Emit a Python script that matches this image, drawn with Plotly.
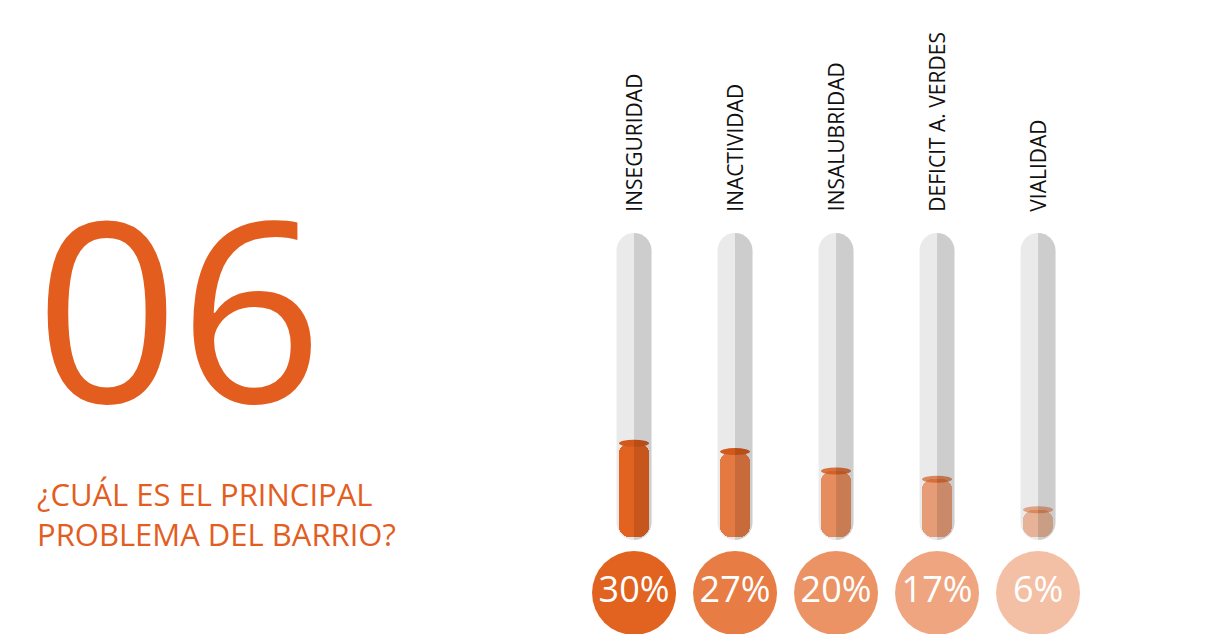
import plotly.graph_objects as go

# ---- data ----
categories = ["INSEGURIDAD", "INACTIVIDAD", "INSALUBRIDAD", "DEFICIT A. VERDES", "VIALIDAD"]
values = [30, 27, 20, 17, 6]
value_labels = ["30%", "27%", "20%", "17%", "6%"]
shade_alpha = [1.0, 0.83, 0.69, 0.57, 0.40]

title_number = "06"
subtitle = "¿CUÁL ES EL PRINCIPAL<br>PROBLEMA DEL BARRIO?"

# ---- layout constants ----
W, H = 1216, 634
X_RANGE = [-6.198, 5.841]
Y_RANGE = [-41.8, 187.3]
PPX = W / (X_RANGE[1] - X_RANGE[0])   # px per x unit
PPY = H / (Y_RANGE[1] - Y_RANGE[0])   # px per y unit

TUBE_TOP = 106.0
TUBE_BOTTOM = -4.9
FILL_FLOOR = -4.0
BADGE_Y = -24.1
LABEL_BASE = 113.0

TUBE_W_PX = 35
FILL_W_PX = 30
ORANGE = (226, 98, 31)
DARK_ORANGE = (210, 88, 27)
TUBE_COLOR = "#EAEAEA"
TEXT_ORANGE = "#E35D1F"
K = 0.5523


def rounded_rect(x0, x1, y0, y1, rx, ry):
    return (
        f"M {x0},{y0+ry} L {x0},{y1-ry} "
        f"C {x0},{y1-ry+K*ry} {x0+rx-K*rx},{y1} {x0+rx},{y1} "
        f"L {x1-rx},{y1} "
        f"C {x1-rx+K*rx},{y1} {x1},{y1-ry+K*ry} {x1},{y1-ry} "
        f"L {x1},{y0+ry} "
        f"C {x1},{y0+ry-K*ry} {x1-rx+K*rx},{y0} {x1-rx},{y0} "
        f"L {x0+rx},{y0} "
        f"C {x0+rx-K*rx},{y0} {x0},{y0+ry-K*ry} {x0},{y0+ry} Z"
    )


def right_half(xc, x1, y0, y1, rx, ry):
    return (
        f"M {xc},{y1} "
        f"C {xc+K*rx},{y1} {x1},{y1-ry+K*ry} {x1},{y1-ry} "
        f"L {x1},{y0+ry} "
        f"C {x1},{y0+ry-K*ry} {xc+K*rx},{y0} {xc},{y0} Z"
    )


def rgba(c, a):
    return f"rgba({c[0]},{c[1]},{c[2]},{a})"


idx = list(range(len(categories)))
fig = go.Figure()

# liquid fill (drawn downward from the value so the rounded end sits at the bottom)
fig.add_trace(go.Bar(
    x=idx,
    y=[FILL_FLOOR - v for v in values],
    base=values,
    width=FILL_W_PX / PPX,
    marker=dict(color=[rgba(ORANGE, a) for a in shade_alpha], line=dict(width=0),
                cornerradius=10),
    hoverinfo="skip",
))

# percentage badges
fig.add_trace(go.Scatter(
    x=idx,
    y=[BADGE_Y] * len(values),
    mode="markers+text",
    marker=dict(size=84, color=[rgba(ORANGE, a) for a in shade_alpha], line=dict(width=0)),
    text=value_labels,
    textposition="middle center",
    textfont=dict(family="Open Sans", size=36, color="white"),
    hoverinfo="skip",
))

shapes = []
rx = (TUBE_W_PX / 2) / PPX
ry = (TUBE_W_PX / 2) / PPY
for i in idx:
    shapes.append(dict(type="path", xref="x", yref="y", layer="below",
                       path=rounded_rect(i - rx, i + rx, TUBE_BOTTOM, TUBE_TOP, rx, ry),
                       fillcolor=TUBE_COLOR, line=dict(width=0)))
for i, v, a in zip(idx, values, shade_alpha):
    shapes.append(dict(type="circle", xref="x", yref="y", layer="above",
                       xsizemode="pixel", ysizemode="pixel", xanchor=i, yanchor=v,
                       x0=-FILL_W_PX / 2, x1=FILL_W_PX / 2, y0=-3.5, y1=3.5,
                       fillcolor=rgba(DARK_ORANGE, round(min(1.0, a * 1.2), 2)),
                       line=dict(width=0)))
for i in idx:
    shapes.append(dict(type="path", xref="x", yref="y", layer="above",
                       path=right_half(i, i + rx, TUBE_BOTTOM, TUBE_TOP, rx, ry),
                       fillcolor="rgba(0,0,0,0.12)", line=dict(width=0)))

annotations = []
for i, c in zip(idx, categories):
    annotations.append(dict(x=i, y=LABEL_BASE, xref="x", yref="y", text=c, showarrow=False,
                            textangle=-90, xanchor="center", yanchor="bottom",
                            font=dict(family="Open Sans", size=21, color="#111111")))

annotations.append(dict(x=25 / W, y=1 - 297 / H, xref="paper", yref="paper", text=title_number,
                        showarrow=False, xanchor="left", yanchor="middle",
                        height=220, valign="middle",
                        font=dict(family="Open Sans", size=252, color=TEXT_ORANGE)))
annotations.append(dict(x=27 / W, y=1 - 463 / H, xref="paper", yref="paper", text=subtitle,
                        showarrow=False, xanchor="left", yanchor="top", align="left",
                        font=dict(family="Open Sans", size=31, color=TEXT_ORANGE)))

fig.update_layout(
    width=W, height=H, autosize=False,
    margin=dict(l=0, r=0, t=0, b=0),
    paper_bgcolor="white", plot_bgcolor="white",
    showlegend=False,
    xaxis=dict(range=X_RANGE, visible=False, fixedrange=True),
    yaxis=dict(range=Y_RANGE, visible=False, fixedrange=True),
    shapes=shapes,
    annotations=annotations,
    bargap=0,
)

fig.write_html("out.html")
